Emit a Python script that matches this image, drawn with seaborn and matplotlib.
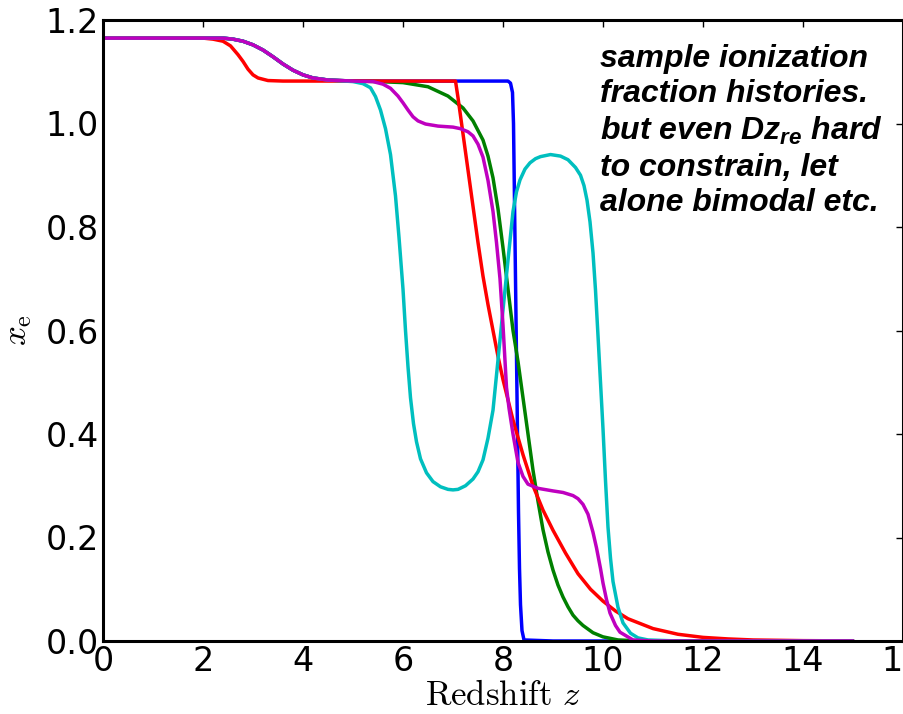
import numpy as np
import pandas as pd
import matplotlib
matplotlib.use("Agg")
import matplotlib.pyplot as plt
import seaborn as sns

# ---- data ----
z_blue = [0.0, 2.0, 2.4, 2.6, 2.8, 3.0, 3.2, 3.4, 3.6, 3.8, 4.0, 4.2, 4.5, 5.0,
          8.10, 8.15, 8.19, 8.21, 8.23, 8.25, 8.27, 8.29, 8.31, 8.33, 8.35, 8.38, 8.42, 9.0, 15.0]
xe_blue = [1.165, 1.165, 1.165, 1.163, 1.159, 1.152, 1.142, 1.129, 1.115, 1.103, 1.094, 1.088, 1.084, 1.082,
           1.082, 1.078, 1.06, 1.0, 0.85, 0.70, 0.55, 0.40, 0.25, 0.14, 0.07, 0.02, 0.002, 0.0, 0.0]

z_green = [0.0, 2.0, 2.4, 2.6, 2.8, 3.0, 3.2, 3.4, 3.6, 3.8, 4.0, 4.2, 4.5, 5.0,
           5.5, 6.0, 6.5, 6.9, 7.2, 7.4, 7.6, 7.7, 7.8, 7.9, 8.0, 8.1, 8.2, 8.3, 8.4, 8.5, 8.6, 8.7,
           8.8, 8.9, 9.0, 9.1, 9.2, 9.3, 9.4, 9.5, 9.6, 9.8, 10.0, 10.3, 10.8, 15.0]
xe_green = [1.165, 1.165, 1.165, 1.163, 1.159, 1.152, 1.142, 1.129, 1.115, 1.103, 1.094, 1.088, 1.084, 1.082,
            1.081, 1.079, 1.071, 1.053, 1.03, 1.005, 0.968, 0.937, 0.895, 0.835, 0.76, 0.68, 0.60, 0.54, 0.47, 0.40, 0.33, 0.27,
            0.215, 0.172, 0.137, 0.108, 0.085, 0.066, 0.05, 0.039, 0.03, 0.016, 0.008, 0.002, 0.0, 0.0]

z_red = [0.0, 2.0, 2.2, 2.4, 2.55, 2.7, 2.8, 2.9, 3.0, 3.1, 3.3, 3.6, 7.05,
         7.1, 7.2, 7.3, 7.4, 7.5, 7.6, 7.7, 7.8, 7.9, 8.0, 8.2, 8.4, 8.6, 8.8, 9.0, 9.25, 9.5,
         9.75, 10.0, 10.25, 10.5, 11.0, 11.5, 12.0, 12.5, 13.0, 14.0, 15.0]
xe_red = [1.165, 1.165, 1.163, 1.159, 1.150, 1.133, 1.120, 1.105, 1.094, 1.088, 1.083, 1.082, 1.082,
          1.05, 0.98, 0.91, 0.84, 0.77, 0.705, 0.65, 0.60, 0.55, 0.505, 0.427, 0.36, 0.30, 0.253, 0.214, 0.17, 0.13,
          0.10, 0.077, 0.058, 0.043, 0.024, 0.013, 0.007, 0.004, 0.002, 0.0007, 0.0002]

z_cyan = [0.0, 2.0, 2.4, 2.6, 2.8, 3.0, 3.2, 3.4, 3.6, 3.8, 4.0, 4.2, 4.5, 5.0,
          5.2, 5.35, 5.45, 5.55, 5.65, 5.75, 5.85, 5.92, 6.0, 6.05, 6.1, 6.15, 6.21, 6.27, 6.35, 6.47,
          6.6, 6.75, 6.9, 7.0, 7.1, 7.25, 7.4, 7.5, 7.6, 7.7, 7.8, 7.9, 8.0, 8.1, 8.2, 8.27, 8.34,
          8.44, 8.54, 8.65, 8.75, 8.95, 9.15, 9.3, 9.45, 9.55, 9.62, 9.68, 9.74, 9.8, 9.85, 9.9,
          9.95, 10.0, 10.05, 10.1, 10.15, 10.2, 10.3, 10.4, 10.55, 10.7, 10.9, 11.5, 15.0]
xe_cyan = [1.165, 1.165, 1.165, 1.163, 1.159, 1.152, 1.142, 1.129, 1.115, 1.103, 1.094, 1.088, 1.084, 1.081,
           1.077, 1.069, 1.052, 1.026, 0.99, 0.94, 0.86, 0.78, 0.68, 0.60, 0.53, 0.47, 0.42, 0.385, 0.352, 0.325,
           0.308, 0.298, 0.293, 0.292, 0.293, 0.300, 0.313, 0.327, 0.35, 0.392, 0.446, 0.543, 0.64, 0.736, 0.83, 0.868, 0.891,
           0.912, 0.924, 0.932, 0.936, 0.94, 0.937, 0.93, 0.915, 0.90, 0.88, 0.852, 0.81, 0.75, 0.678, 0.59,
           0.50, 0.41, 0.31, 0.22, 0.16, 0.115, 0.065, 0.035, 0.015, 0.006, 0.002, 0.0, 0.0]

z_magenta = [0.0, 2.0, 2.4, 2.6, 2.8, 3.0, 3.2, 3.4, 3.6, 3.8, 4.0, 4.2, 4.5, 5.0,
             5.4, 5.6, 5.75, 5.9, 6.0, 6.1, 6.2, 6.3, 6.45, 6.7, 7.0, 7.15, 7.3, 7.4, 7.5, 7.6,
             7.7, 7.8, 7.87, 7.94, 8.0, 8.07, 8.12, 8.2, 8.3, 8.4, 8.5, 8.7, 9.0, 9.2, 9.4, 9.5,
             9.6, 9.7, 9.8, 9.87, 9.95, 10.0, 10.07, 10.14, 10.25, 10.34, 10.6, 11.0, 15.0]
xe_magenta = [1.165, 1.165, 1.165, 1.163, 1.159, 1.152, 1.142, 1.129, 1.115, 1.103, 1.094, 1.088, 1.084, 1.082,
              1.081, 1.076, 1.068, 1.053, 1.04, 1.026, 1.013, 1.005, 0.999, 0.995, 0.993, 0.99, 0.984, 0.976, 0.96, 0.935,
              0.89, 0.83, 0.77, 0.70, 0.61, 0.49, 0.45, 0.40, 0.345, 0.318, 0.303, 0.295, 0.29, 0.287, 0.281, 0.275,
              0.264, 0.245, 0.21, 0.18, 0.14, 0.112, 0.08, 0.054, 0.03, 0.017, 0.002, 0.0, 0.0]

series_names = ["blue", "green", "red", "cyan", "magenta"]
series_colors = ["#0000ff", "#008000", "#ff0000", "#00bfbf", "#bf00bf"]

x_ticks = [0, 2, 4, 6, 8, 10, 12, 14, 16]
y_ticks = [0.0, 0.2, 0.4, 0.6, 0.8, 1.0, 1.2]

annotation = ("sample ionization\nfraction histories.\nbut even Dz$_{re}$ hard\n"
              "to constrain, let\nalone bimodal etc.")

# ---- build long-form table ----
frames = []
for name, zs, xs in zip(series_names,
                        [z_blue, z_green, z_red, z_cyan, z_magenta],
                        [xe_blue, xe_green, xe_red, xe_cyan, xe_magenta]):
    frames.append(pd.DataFrame({"z": zs, "xe": xs, "curve": name}))
df = pd.concat(frames, ignore_index=True)

sns.set_style("white")
plt.rcParams["font.family"] = ["DejaVu Sans"]
plt.rcParams["text.color"] = "black"
plt.rcParams["axes.labelcolor"] = "black"
plt.rcParams["xtick.color"] = "black"
plt.rcParams["ytick.color"] = "black"
plt.rcParams["mathtext.fontset"] = "custom"
plt.rcParams["mathtext.it"] = "Liberation Sans:bold:italic"
plt.rcParams["mathtext.rm"] = "Liberation Sans:bold:italic"

fig = plt.figure(figsize=(9.04, 7.14), dpi=100)
ax = fig.add_axes([103 / 904, 73 / 714, 800 / 904, 621 / 714])

sns.lineplot(data=df, x="z", y="xe", hue="curve", hue_order=series_names,
             palette=series_colors, estimator=None, sort=False, linewidth=2.5,
             legend=False, ax=ax)

ax.set_xlim(0, 16)
ax.set_ylim(0, 1.2)
ax.set_xticks(x_ticks)
ax.set_xticklabels([str(t) for t in x_ticks])
ax.set_yticks(y_ticks)
ax.set_yticklabels([f"{t:.1f}" for t in y_ticks])

for sp in ax.spines.values():
    sp.set_visible(True)
    sp.set_linewidth(2.2)
    sp.set_color("black")

ax.tick_params(direction="in", length=5, width=1, top=True, right=True,
               labelsize=24, pad=3, colors="black", labelcolor="black")

ax.set_xlabel(r"$\mathrm{Redshift}\ z$", fontsize=25, math_fontfamily="cm",
              labelpad=0, color="black")
ax.set_ylabel(r"$x_\mathrm{e}$", fontsize=25, math_fontfamily="cm",
              labelpad=8, color="black")

ax.text(0.621, 0.962, annotation, transform=ax.transAxes, ha="left", va="top",
        fontsize=23, family="Liberation Sans", weight="bold", style="italic",
        linespacing=1.24, math_fontfamily="custom", color="black")

fig.savefig("out.png", dpi=100)
